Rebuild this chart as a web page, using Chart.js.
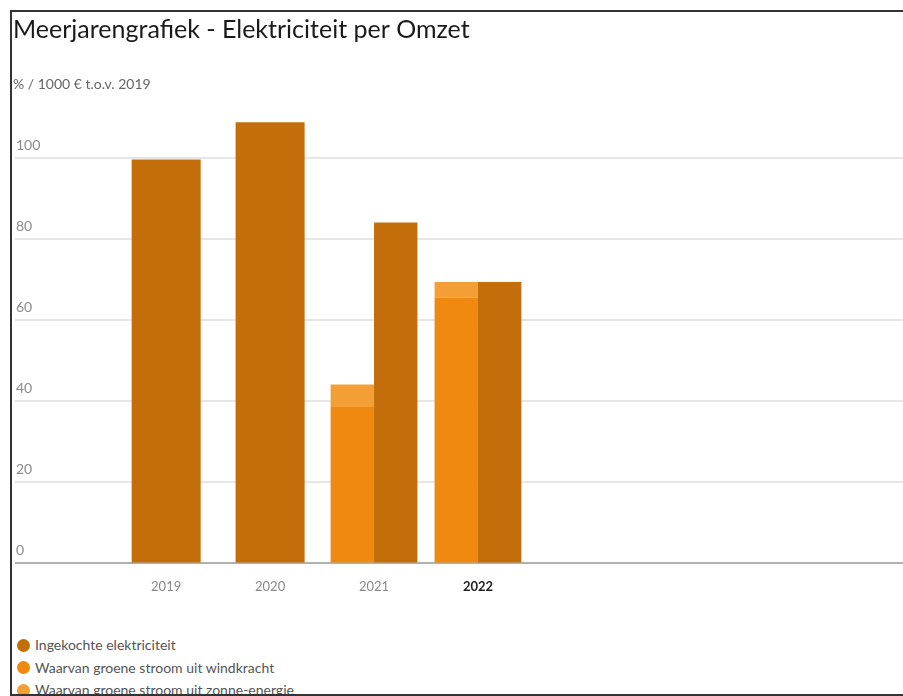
<!DOCTYPE html>
<html lang="nl">
<head>
<meta charset="utf-8">
<title>Meerjarengrafiek - Elektriciteit per Omzet</title>
<script src="https://cdn.jsdelivr.net/npm/chart.js@4.4.1/dist/chart.umd.min.js"></script>
<style>
  html, body { margin: 0; padding: 0; background: #fff; }
  body { width: 903px; height: 696px; overflow: hidden; position: relative; font-family: Lato, sans-serif; }
  #kader {
    position: absolute; left: 10px; top: 10px; width: 893px; height: 686px; box-sizing: border-box;
    border-top: 2px solid #333; border-left: 2px solid #333; border-bottom: 2px solid #333;
    overflow: hidden;
  }
  #legenda { list-style: none; margin: 22px 0 0 0; padding: 0 0 0 5px; }
  #legenda li { height: 22.5px; line-height: 22.5px; font-size: 14px; color: #555; white-space: nowrap; }
  #legenda .bol { display: inline-block; width: 13px; height: 13px; border-radius: 50%; vertical-align: middle; margin-right: 5px; position: relative; top: -1px; }
</style>
</head>
<body>
<div id="kader">
  <canvas id="grafiek" width="891" height="600"></canvas>
  <ul id="legenda"></ul>
</div>
<script>
// gegevens (% / 1000 euro omzet t.o.v. 2019)
var jaren = [2019, 2020, 2021, 2022];
var ingekocht = [99.6, 108.8, 84.1, 69.4];
var windkracht = [null, null, 38.6, 65.5];
var zonne = [null, null, 5.5, 3.9];
var huidigJaar = 2022;

var reeksNamen = ['Ingekochte elektriciteit', 'Waarvan groene stroom uit windkracht', 'Waarvan groene stroom uit zonne-energie'];
var kleuren = ['#c36e0a', '#ef890f', '#f39f36'];

function punten(waarden) {
  return jaren.map(function (jaar, i) {
    return { x: jaar, y: waarden[i] };
  });
}

Chart.defaults.font.family = 'Lato, sans-serif';

var ctx = document.getElementById('grafiek');
var grafiek = new Chart(ctx, {
  type: 'bar',
  data: {
    datasets: [
      { label: reeksNamen[0], data: punten(ingekocht), backgroundColor: kleuren[0], stack: 'totaal', order: 1 },
      { label: reeksNamen[1], data: punten(windkracht), backgroundColor: kleuren[1], stack: 'groen', order: 0 },
      { label: reeksNamen[2], data: punten(zonne), backgroundColor: kleuren[2], stack: 'groen', order: 0 }
    ]
  },
  options: {
    responsive: false,
    animation: false,
    layout: { padding: { left: 1, right: 0, top: 0, bottom: 1 } },
    datasets: {
      bar: {
        skipNull: true,
        barPercentage: 1,
        categoryPercentage: 0.835,
        maxBarThickness: 69
      }
    },
    scales: {
      x: {
        type: 'linear',
        bounds: 'data',
        offset: false,
        stacked: true,
        min: 2017.5456,
        max: 2026.0894,
        grid: { display: false, drawTicks: false, offset: false },
        border: { display: false },
        afterBuildTicks: function (scale) {
          scale.ticks = jaren.map(function (j) { return { value: j }; });
        },
        ticks: {
          padding: 16,
          callback: function (value) { return String(value); },
          color: function (c) { return c.tick && c.tick.value === huidigJaar ? '#222' : '#888'; },
          font: function (c) {
            return { size: 13, weight: c.tick && c.tick.value === huidigJaar ? 'bold' : 'normal' };
          }
        }
      },
      y: {
        stacked: true,
        min: 0,
        max: 113,
        border: { display: false },
        grid: {
          drawTicks: false,
          lineWidth: 2,
          color: function (c) { return c.tick && c.tick.value === 0 ? '#b0b0b0' : '#e6e6e6'; }
        },
        ticks: {
          stepSize: 20,
          includeBounds: false,
          mirror: true,
          padding: 1,
          labelOffset: -13,
          color: '#8a8a8a',
          font: { size: 14 }
        }
      }
    },
    plugins: {
      legend: { display: false },
      tooltip: { enabled: false },
      title: {
        display: true,
        text: 'Meerjarengrafiek - Elektriciteit per Omzet',
        align: 'start',
        color: '#1a1a1a',
        font: { size: 25, weight: 'normal' },
        padding: { top: 2.5, bottom: 32 }
      },
      subtitle: {
        display: true,
        text: '% / 1000 € t.o.v. 2019',
        align: 'start',
        color: '#666',
        font: { size: 14 },
        padding: { top: 0, bottom: 12 }
      }
    }
  }
});

// legenda onder de grafiek, in volgorde van de datasets
var lijst = document.getElementById('legenda');
grafiek.data.datasets.forEach(function (ds) {
  var li = document.createElement('li');
  var bol = document.createElement('span');
  bol.className = 'bol';
  bol.style.background = ds.backgroundColor;
  li.appendChild(bol);
  li.appendChild(document.createTextNode(ds.label));
  lijst.appendChild(li);
});
</script>
</body>
</html>
